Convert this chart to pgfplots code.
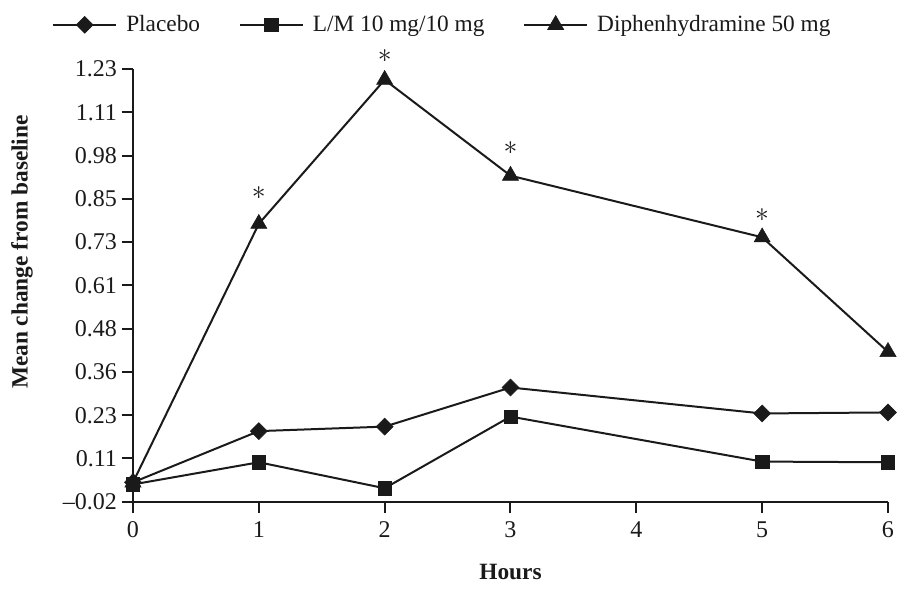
\documentclass[border=0pt]{standalone}
\usepackage{fontspec}
\setmainfont{Liberation Serif}
\usepackage{pgfplots}
\pgfplotsset{compat=1.18}
\definecolor{ink}{HTML}{1A1A1A}

\begin{document}
\begin{tikzpicture}
\useasboundingbox (-99.75pt,-70.7pt) rectangle (573pt,376.3pt);
\begin{axis}[
  scale only axis, width=566.25pt, height=324.5pt,
  xmin=0, xmax=6, ymin=-0.02, ymax=1.23,
  clip=false,
  axis lines=left,
  axis line style={ink, line width=1.5pt, -},
  tick align=outside, major tick length=8.5pt,
  every tick/.style={ink, line width=1.5pt},
  xtick={0,1,2,3,4,5,6},
  xticklabels={0,1,2,3,4,5,6},
  ytick={-0.02,0.105,0.23,0.355,0.48,0.605,0.73,0.855,0.98,1.105,1.23},
  yticklabels={\textendash0.02,0.11,0.23,0.36,0.48,0.61,0.73,0.85,0.98,1.11,1.23},
  ticklabel style={font=\fontsize{18}{21}\selectfont, text=ink},
  xticklabel style={yshift=-3pt},
  xlabel={Hours},
  ylabel={Mean change from baseline},
  label style={font=\fontsize{17.5}{20}\selectfont\bfseries, text=ink},
  xlabel style={at={(axis description cs:0.5,-0.1625)}, anchor=center},
  ylabel style={at={(axis description cs:-0.147,0.577)}, anchor=center},
  legend columns=3,
  legend style={draw=none, fill=none, inner sep=0pt,
    at={(axis description cs:-0.1073,1.1025)}, anchor=west,
    font=\fontsize{17.5}{20}\selectfont, text=ink,
    nodes={inner sep=0pt},
    /tikz/every odd column/.append style={column sep=6.75pt},
    /tikz/every even column/.append style={column sep=29pt}},
  legend image code/.code={
    \draw[mark repeat=2, mark phase=2, #1]
      plot coordinates {(0pt,0pt) (23.6pt,0pt) (47.25pt,0pt)};},
  every axis plot/.append style={ink, line width=1.5pt},
]
% placebo
\addplot[mark=square*, mark size=4.5pt, mark options={rotate=45, fill=ink, line width=0.4pt}]
  coordinates {(0,0.036) (1,0.184) (2,0.197) (3,0.310) (5,0.235) (6,0.238)};
\addlegendentry{Placebo}
% L/M 10 mg/10 mg
\addplot[mark=square*, mark size=5pt, mark options={fill=ink, line width=0.4pt}]
  coordinates {(0,0.030) (1,0.094) (2,0.019) (3,0.226) (5,0.096) (6,0.094)};
\addlegendentry{L/M 10 mg/10 mg}
% diphenhydramine 50 mg
\addplot[mark=triangle*, mark size=7pt, mark options={fill=ink, line width=0.4pt}]
  coordinates {(0,0.036) (1,0.783) (2,1.199) (3,0.922) (5,0.744) (6,0.413)};
\addlegendentry{Diphenhydramine 50 mg}
% significance marks
\node[text=ink, font=\fontsize{22}{24}\selectfont, inner sep=0pt] at (axis cs:1,0.783) [yshift=23pt] {$\ast$};
\node[text=ink, font=\fontsize{22}{24}\selectfont, inner sep=0pt] at (axis cs:2,1.199) [yshift=17.5pt] {$\ast$};
\node[text=ink, font=\fontsize{22}{24}\selectfont, inner sep=0pt] at (axis cs:3,0.922) [yshift=21pt] {$\ast$};
\node[text=ink, font=\fontsize{22}{24}\selectfont, inner sep=0pt] at (axis cs:5,0.744) [yshift=17pt] {$\ast$};
\end{axis}
\end{tikzpicture}
\end{document}
